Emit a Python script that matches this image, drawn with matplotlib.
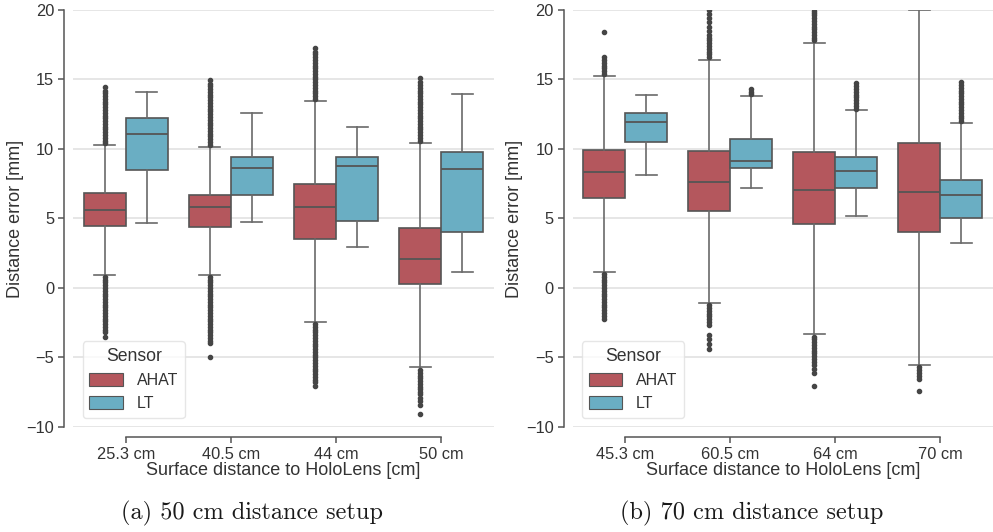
import matplotlib
matplotlib.use("Agg")
import matplotlib.pyplot as plt
from matplotlib.patches import Patch

plt.rcParams['font.family'] = ['Liberation Sans', 'DejaVu Sans']

# ---------------- data ----------------
sensors = ["AHAT", "LT"]
cats_a = ["25.3 cm", "40.5 cm", "44 cm", "50 cm"]
cats_b = ["45.3 cm", "60.5 cm", "64 cm", "70 cm"]

# panel (a): per category stats [whislo, q1, med, q3, whishi]
a_ahat_stats = [
    [0.95, 4.45, 5.58, 6.80, 10.25],
    [0.95, 4.40, 5.84, 6.68, 10.16],
    [-2.46, 3.51, 5.84, 7.50, 13.47],
    [-5.72, 0.32, 2.05, 4.33, 10.42],
]
a_lt_stats = [
    [4.69, 8.45, 11.07, 12.24, 14.06],
    [4.71, 6.70, 8.60, 9.41, 12.55],
    [2.96, 4.81, 8.76, 9.39, 11.57],
    [1.17, 4.01, 8.58, 9.80, 13.92],
]
a_ahat_fliers = [
    [10.4, 10.6, 10.8, 11.0, 11.2, 11.4, 11.6, 11.8, 12.0, 12.2, 12.4, 12.6, 12.8, 13.0,
     13.2, 13.4, 13.6, 13.8, 14.0, 14.2, 14.45,
     0.8, 0.6, 0.4, 0.2, 0.0, -0.2, -0.4, -0.6, -0.8, -1.0, -1.2, -1.4, -1.6, -1.8, -2.0,
     -2.2, -2.4, -2.6, -2.8, -3.0, -3.2, -3.5],
    [10.3, 10.5, 10.7, 10.9, 11.1, 11.3, 11.5, 11.7, 11.9, 12.1, 12.3, 12.5, 12.7, 12.9,
     13.1, 13.3, 13.5, 13.7, 13.9, 14.1, 14.3, 14.5, 14.7, 14.95,
     0.8, 0.6, 0.4, 0.2, 0.0, -0.2, -0.4, -0.6, -0.8, -1.0, -1.2, -1.4, -1.6, -1.8, -2.0,
     -2.2, -2.4, -2.6, -2.8, -3.0, -3.2, -3.4, -3.6, -3.8, -3.95, -4.95],
    [13.6, 13.8, 14.0, 14.2, 14.4, 14.6, 14.8, 15.0, 15.2, 15.4, 15.6, 15.8, 16.0, 16.2,
     16.4, 16.6, 16.8, 17.0, 17.28,
     -2.6, -2.8, -3.0, -3.2, -3.4, -3.6, -3.8, -4.0, -4.2, -4.4, -4.6, -4.8, -5.0, -5.2,
     -5.4, -5.6, -5.8, -6.0, -6.2, -6.4, -6.6, -6.8, -7.06],
    [10.6, 10.8, 11.0, 11.2, 11.4, 11.6, 11.8, 12.0, 12.2, 12.4, 12.6, 12.8, 13.0, 13.2,
     13.4, 13.6, 13.8, 14.0, 14.2, 14.4, 14.6, 14.8, 15.12,
     -5.9, -6.1, -6.3, -6.5, -6.7, -6.9, -7.1, -7.3, -7.5, -7.66, -7.9, -8.15, -8.4, -9.1],
]
a_lt_fliers = [[], [], [], []]

# panel (b)
b_ahat_stats = [
    [1.17, 6.46, 8.31, 9.91, 15.22],
    [-1.09, 5.50, 7.61, 9.82, 16.42],
    [-3.30, 4.57, 7.01, 9.77, 17.64],
    [-5.53, 4.01, 6.89, 10.45, 20.0],
]
b_lt_stats = [
    [8.14, 10.49, 11.93, 12.55, 13.87],
    [7.18, 8.62, 9.15, 10.68, 13.80],
    [5.14, 7.21, 8.38, 9.44, 12.79],
    [3.20, 5.00, 6.68, 7.76, 11.83],
]
b_ahat_fliers = [
    [15.4, 15.6, 15.8, 16.0, 16.2, 16.4, 16.63, 18.43,
     1.0, 0.8, 0.6, 0.4, 0.2, 0.0, -0.2, -0.4, -0.6, -0.8, -1.0, -1.2, -1.4, -1.6, -1.8,
     -2.0, -2.2],
    [16.6, 16.8, 17.0, 17.2, 17.4, 17.6, 17.8, 18.0, 18.2, 18.5, 18.8, 19.1, 19.4, 19.7, 19.96,
     -1.25, -1.45, -1.65, -1.85, -2.05, -2.25, -2.45, -2.63, -3.35, -3.7, -4.05, -4.37],
    [17.8, 18.0, 18.2, 18.4, 18.6, 18.8, 19.0, 19.2, 19.4, 19.6, 19.8, 19.95,
     -3.5, -3.7, -3.9, -4.1, -4.3, -4.5, -4.7, -4.9, -5.1, -5.3, -5.55, -5.8, -6.1, -7.06],
    [-5.7, -5.9, -6.1, -6.3, -6.58, -7.42],
]
b_lt_fliers = [
    [],
    [13.95, 14.1, 14.28],
    [12.9, 13.1, 13.3, 13.5, 13.7, 13.9, 14.1, 14.3, 14.5, 14.71],
    [12.0, 12.2, 12.4, 12.6, 12.8, 13.0, 13.2, 13.4, 13.6, 13.8, 14.0, 14.2, 14.4, 14.6, 14.8],
]

captions = ["(a) 50 cm distance setup", "(b) 70 cm distance setup"]
yticks = [-10, -5, 0, 5, 10, 15, 20]

# ---------------- style ----------------
c_ahat = "#b4575d"
c_lt = "#6aaec3"
edge = "#555555"
text_c = "#333333"

fig = plt.figure(figsize=(9.93, 5.32), dpi=100)
ax_a = fig.add_axes([0.074, 0.1974, 0.423, 0.784])
ax_b = fig.add_axes([0.577, 0.1974, 0.423, 0.784])


def make_stats(stats, fliers):
    out = []
    for s, f in zip(stats, fliers):
        out.append(dict(whislo=s[0], q1=s[1], med=s[2], q3=s[3], whishi=s[4], fliers=f))
    return out


def draw(ax, cats, ahat_stats, lt_stats, ahat_fl, lt_fl):
    n = len(cats)
    for stats, fl, color, off in [(ahat_stats, ahat_fl, c_ahat, -0.2),
                                  (lt_stats, lt_fl, c_lt, 0.2)]:
        ax.bxp(make_stats(stats, fl), positions=[i + off for i in range(n)],
               widths=0.4, patch_artist=True, manage_ticks=False,
               boxprops=dict(facecolor=color, edgecolor=edge, linewidth=1.2),
               medianprops=dict(color=edge, linewidth=1.3),
               whiskerprops=dict(color="#6a6a6a", linewidth=1.2),
               capprops=dict(color="#6a6a6a", linewidth=1.2),
               flierprops=dict(marker="o", markersize=3.0, markerfacecolor="#454545",
                               markeredgecolor="#454545", linestyle="none"),
               zorder=3)
    ax.set_xlim(-0.5, n - 0.5)
    ax.set_ylim(-10, 20)
    ax.set_xticks(range(n))
    ax.set_xticklabels(cats)
    ax.set_yticks(yticks)
    ax.grid(axis="y", color="#e6e6e6", linewidth=1.4, zorder=0)
    ax.set_axisbelow(True)
    for s in ["top", "right"]:
        ax.spines[s].set_visible(False)
    ax.spines["left"].set_position(("outward", 6.5))
    ax.spines["bottom"].set_position(("outward", 7.2))
    ax.spines["left"].set_bounds(-10, 20)
    ax.spines["bottom"].set_bounds(0, n - 1)
    for s in ["left", "bottom"]:
        ax.spines[s].set_color("#555555")
        ax.spines[s].set_linewidth(1.1)
    ax.tick_params(axis="both", colors="#555555", labelcolor=text_c, labelsize=11.8,
                   length=4, width=1.1)
    ax.set_xlabel("Surface distance to HoloLens [cm]", fontsize=13, color=text_c, labelpad=0)
    ax.set_ylabel("Distance error [mm]", fontsize=13, color=text_c, labelpad=2)
    handles = [Patch(facecolor=c_ahat, edgecolor=edge, linewidth=0.8, label=sensors[0]),
               Patch(facecolor=c_lt, edgecolor=edge, linewidth=0.8, label=sensors[1])]
    leg = ax.legend(handles=handles, title="Sensor", loc="lower left",
                    bbox_to_anchor=(0.003, 0.003), fontsize=11.5, title_fontsize=12.7,
                    frameon=True, fancybox=True, handlelength=2.1, handleheight=0.85,
                    borderpad=0.42, labelspacing=0.5, handletextpad=0.85)
    leg.get_frame().set_edgecolor("#e0e0e0")
    leg.get_frame().set_linewidth(1.0)
    for t in leg.get_texts():
        t.set_color(text_c)
    leg.get_title().set_color(text_c)


draw(ax_a, cats_a, a_ahat_stats, a_lt_stats, a_ahat_fliers, a_lt_fliers)
draw(ax_b, cats_b, b_ahat_stats, b_lt_stats, b_ahat_fliers, b_lt_fliers)

fig.text(252 / 993, 1 - 513 / 532, captions[0], ha="center", va="center",
         fontsize=17.5, family="cmr10", color="#1a1a1a")
fig.text(752 / 993, 1 - 513 / 532, captions[1], ha="center", va="center",
         fontsize=17.5, family="cmr10", color="#1a1a1a")

fig.savefig("out.png", dpi=100, facecolor="white")
